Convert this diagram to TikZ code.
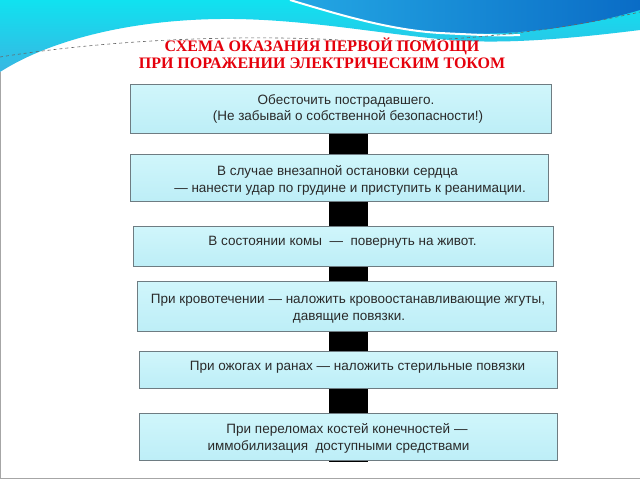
\documentclass[tikz,border=0pt]{standalone}
\usepackage{fontspec}
\setmainfont{Liberation Sans}
\newfontfamily\titlefont{Liberation Serif}
\usetikzlibrary{shadings}
\definecolor{boxfillA}{HTML}{D0F6FB}
\definecolor{boxfillB}{HTML}{BDEEF7}
\definecolor{boxline}{HTML}{6E7C82}
\definecolor{txt}{HTML}{2A2A2A}
\definecolor{titlered}{HTML}{E5000C}
\definecolor{cyanA}{HTML}{10E2F0}
\definecolor{cyanB}{HTML}{38B6E2}
\definecolor{blueA}{HTML}{24A8E4}
\definecolor{blueB}{HTML}{0A6CC6}
\tikzset{
  stepbox/.style={draw=boxline, line width=0.8pt, top color=boxfillA, bottom color=boxfillB, inner sep=0pt, anchor=north west},
  line/.style={font=\fontsize{13.5}{16}\selectfont, text=txt, inner sep=0pt, text height=0.72em, text depth=0.2em},
  ttl/.style={font=\titlefont\bfseries\fontsize{16}{18}\selectfont, text=titlered, inner sep=0pt, text height=0.66em, text depth=0pt}
}
\begin{document}
\begin{tikzpicture}[x=1pt,y=-1pt]
\useasboundingbox (0,0) rectangle (640,480);
\fill[white] (0,0) rectangle (640,480);
% top waves
\shade[top color=cyanA, bottom color=cyanB]
  (0,0) -- (640,0) -- (640,30) .. controls (560,40) and (500,44) .. (450,40)
  .. controls (380,34) and (300,18) .. (220,19) .. controls (130,20) and (50,40) .. (0,72) -- cycle;
\shade[left color=blueA, right color=blueB]
  (290,0) .. controls (340,15) and (390,30) .. (440,33) .. controls (520,37) and (590,25) .. (640,10) -- (640,0) -- cycle;
\draw[white, line width=2pt] (290,0) .. controls (340,15) and (390,30) .. (440,33) .. controls (480,35) and (500,36) .. (520,35);
\draw[black!60, dashed, line width=0.6pt] (0,57) .. controls (120,38) and (250,35) .. (340,40) .. controls (450,45) and (560,30) .. (640,12);
% frame
\draw[gray!70, line width=0.8pt] (0.5,72) -- (0.5,478) -- (640,478);
% spine
\fill[black] (329,133) rectangle (368,462);
% boxes
\node[stepbox, minimum width=421pt, minimum height=49pt] (b1) at (130,84) {};
\node[stepbox, minimum width=418pt, minimum height=47pt] (b2) at (130,154) {};
\node[stepbox, minimum width=420pt, minimum height=40pt] (b3) at (133,226) {};
\node[stepbox, minimum width=419pt, minimum height=50pt] (b4) at (137,281) {};
\node[stepbox, minimum width=418pt, minimum height=37pt] (b5) at (139,351) {};
\node[stepbox, minimum width=418pt, minimum height=47pt] (b6) at (139,413) {};
% texts
\node[line] (t1a) at (346,102) {Обесточить пострадавшего.};
\node[line] (t1b) at (348,118) {(Не забывай о собственной безопасности!)};
\node[line] (t2a) at (337.5,173) {В случае внезапной остановки сердца};
\node[line] (t2b) at (350,190) {— нанести удар по грудине и приступить к реанимации.};
\node[line] (t3) at (342.5,243) {В состоянии комы\ \ —\ \ повернуть на живот.};
\node[line] (t4a) at (348,301) {При кровотечении — наложить кровоостанавливающие жгуты,};
\node[line] (t4b) at (349,318) {давящие повязки.};
\node[line] (t5) at (357.5,368) {При ожогах и ранах — наложить стерильные повязки};
\node[line] (t6a) at (347,431) {При переломах костей конечностей —};
\node[line] (t6b) at (338.5,448) {иммобилизация\ \ доступными средствами};
% title
\node[ttl] (title1) at (322,48) {СХЕМА ОКАЗАНИЯ ПЕРВОЙ ПОМОЩИ};
\node[ttl] (title2) at (322,65) {ПРИ ПОРАЖЕНИИ ЭЛЕКТРИЧЕСКИМ ТОКОМ};
\end{tikzpicture}
\end{document}
